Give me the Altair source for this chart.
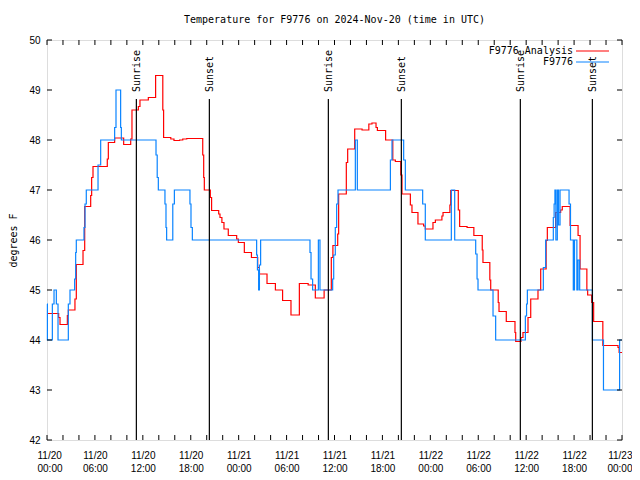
import altair as alt
import pandas as pd

# Hours since 2024-11-20 00:00 UTC, step values (value holds from that time on)
analysis_t = [0, 1.46, 1.63, 2.55, 2.67, 3.5, 3.67, 4.51, 4.72, 5.47, 5.59, 5.76, 7.55, 7.68,
              8.47, 9.6, 10.48, 10.64, 11.44, 11.64, 12.69, 13.6, 14.5, 14.6, 15.5, 15.9, 16.6,
              17.0, 17.5, 19.5, 19.62, 19.7, 20.45, 20.61, 21.5, 21.66, 21.9, 22.16, 22.7, 23.75,
              23.96, 24.71, 25.6, 26.38, 26.6, 27.55, 28.6, 29.5, 30.55, 31.6, 32.7, 33.6, 34.7,
              35.6, 35.8, 36.4, 36.52, 37.48, 37.65, 38.53, 39.45, 40.3, 40.69, 41.2, 41.37, 42.4,
              43.3, 43.62, 44.3, 44.45, 45.5, 45.7, 46.45, 47.16, 47.37, 48.33, 48.63, 49.45,
              49.59, 50.45, 50.55, 51.5, 51.67, 52.6, 53.45, 54.5, 54.59, 55.45, 55.56, 56.5, 56.6,
              57.51, 58.6, 58.69, 59.35, 59.6, 60.23, 60.57, 61.48, 61.82, 62.5, 62.65, 63.69,
              64.32, 64.52, 65.5, 66.5, 66.75, 67.6, 67.7, 68.2, 68.45, 69.6, 71.5, 71.64, 72]
analysis_v = [44.53, 44.45, 44.31, 44.49, 44.6, 44.82, 45.51, 45.79, 46.67, 46.89, 47.25, 47.47,
              47.62, 47.95, 48.04, 47.91, 48.02, 48.6, 48.67, 48.8, 48.85, 49.29, 48.6, 48.05,
              48.02, 47.99, 48.0, 48.02, 48.03, 47.7, 47.25, 47.0, 46.85, 46.59, 46.52, 46.45,
              46.35, 46.22, 46.09, 46.02, 45.95, 45.75, 45.65, 45.45, 45.32, 45.13, 45.0, 44.79,
              44.5, 45.13, 45.1, 44.84, 45.0, 45.65, 45.89, 46.12, 46.92, 47.55, 47.82, 48.22,
              48.2, 48.32, 48.34, 48.25, 48.19, 48.0, 47.6, 47.57, 47.3, 46.92, 46.7, 46.55, 46.32,
              46.28, 46.22, 46.35, 46.4, 46.48, 46.55, 46.7, 46.99, 46.6, 46.27, 46.25, 46.09,
              45.8, 45.55, 45.2, 45.0, 44.75, 44.57, 44.37, 44.15, 43.97, 44.05, 44.15, 44.45,
              44.82, 45.0, 45.42, 45.99, 46.25, 46.55, 46.6, 46.67, 46.29, 46.09, 45.42, 45.0,
              44.9, 44.75, 44.37, 43.89, 43.85, 43.75, 43.75]

station_t = [0, 0.05, 0.67, 0.88, 1.17, 1.38, 2.67, 2.88, 3.46, 3.59, 3.67, 4.63, 4.76, 4.92,
             6.39, 6.72, 8.47, 8.64, 9.22, 9.31, 13.65, 13.8, 13.94, 14.77, 14.9, 14.98, 15.75,
             15.95, 17.9, 18.03, 18.2, 26.25, 26.35, 26.5, 26.6, 26.75, 32.93, 33.06, 33.26,
             33.98, 34.18, 35.77, 35.9, 36.1, 36.27, 36.44, 38.61, 38.86, 43.0, 43.2, 44.66,
             44.87, 47.04, 47.37, 50.63, 51.05, 53.68, 53.85, 53.97, 55.85, 56.18, 59.9, 60.05,
             60.15, 62.15, 62.44, 63.4, 63.5, 63.6, 63.72, 63.9, 64.05, 64.24, 65.37, 65.55,
             65.9, 66.05, 66.35, 66.5, 66.7, 68.3, 69.68, 71.7, 72]
station_v = [44.72, 44.0, 44.72, 45.0, 44.72, 44.0, 44.72, 45.0, 45.22, 45.75, 46.0, 46.25,
             46.72, 47.0, 47.5, 48.0, 48.25, 49.0, 48.25, 48.0, 47.7, 47.25, 47.0, 46.72, 46.25,
             46.0, 46.72, 47.0, 46.72, 46.25, 46.0, 45.7, 45.4, 45.0, 45.5, 46.0, 45.75, 45.22,
             45.0, 46.0, 45.0, 45.22, 45.7, 46.25, 46.72, 47.0, 48.0, 47.0, 47.6, 48.0, 47.6,
             47.0, 46.72, 46.0, 47.0, 46.0, 45.72, 45.22, 45.0, 44.48, 44.0, 44.48, 44.72, 45.0,
             45.45, 46.0, 46.45, 46.72, 47.0, 46.0, 47.0, 46.3, 47.0, 46.72, 46.0, 45.0, 46.0,
             45.0, 45.6, 45.0, 44.0, 43.0, 44.0, 44.0]

sun_t = [11.19, 20.33, 35.23, 44.37, 59.27, 68.29]
sun_label = ["Sunrise", "Sunset", "Sunrise", "Sunset", "Sunrise", "Sunset"]

x_ticks = list(range(0, 73, 2))
x_labels = list(range(0, 73, 6))
y_ticks = list(range(42, 51))

FONT = "DejaVu Sans Mono"
RED = "#ff0000"
BLUE = "#0a84ff"

df_a = pd.DataFrame({"t": analysis_t, "v": analysis_v})
df_s = pd.DataFrame({"t": station_t, "v": station_v})
df_sun = pd.DataFrame({"t": sun_t, "label": sun_label})
df_xt = pd.DataFrame({"t": x_ticks})
df_yt = pd.DataFrame({"v": y_ticks})

xscale = alt.Scale(domain=[0, 72], nice=False, zero=False)
yscale = alt.Scale(domain=[42, 50], nice=False, zero=False)

label_expr = ("[ '11/' + (20 + floor(datum.value / 24)), "
              "((datum.value % 24) < 10 ? '0' : '') + (datum.value % 24) + ':00' ]")

xaxis = alt.Axis(values=x_labels, labelExpr=label_expr, title=None, labelPadding=10,
                 labelLineHeight=13, labelFlush=True, labelFlushOffset=10,
                 labelOverlap=False, grid=False, ticks=False, domain=False)
yaxis = alt.Axis(values=y_ticks, title="degrees F", labelPadding=7, titleX=-34, titleY=200,
                 titleAngle=270, titleAlign="center", titleBaseline="middle", labelFlush=False,
                 titleFontWeight="normal", titleFont=FONT, titleFontSize=10,
                 grid=False, ticks=False, domain=False)

X = alt.X("t:Q", scale=xscale, axis=xaxis)
Y = alt.Y("v:Q", scale=yscale, axis=yaxis)

base_line = alt.Chart(df_a).mark_line(interpolate="step-after", color=RED, strokeWidth=1.2).encode(x=X, y=Y)
st_line = alt.Chart(df_s).mark_line(interpolate="step-after", color=BLUE, strokeWidth=1.2).encode(x=X, y=Y)

sun_rule = alt.Chart(df_sun).mark_rule(color="black", strokeWidth=1.2).encode(
    x=X, y=alt.value(59), y2=alt.value(400))
sun_text = alt.Chart(df_sun).mark_text(angle=270, align="left", baseline="middle", font=FONT,
                                       fontSize=10, color="black", dy=1).encode(
    x=X, y=alt.value(52), text="label:N")

xt_bottom = alt.Chart(df_xt).mark_rule(color="black").encode(
    x=X, y=alt.value(400), y2=alt.value(395))
xt_top = alt.Chart(df_xt).mark_rule(color="black").encode(
    x=X, y=alt.value(0), y2=alt.value(5))
yt_left = alt.Chart(df_yt).mark_rule(color="black").encode(
    y=Y, x=alt.value(0), x2=alt.value(5))
yt_right = alt.Chart(df_yt).mark_rule(color="black").encode(
    y=Y, x=alt.value(575), x2=alt.value(570))

leg_names = ["F9776 Analysis", "F9776"]
leg_a_text = alt.Chart(pd.DataFrame({"name": [leg_names[0]]})).mark_text(
    align="right", baseline="middle", font=FONT, fontSize=10, color="black").encode(
    x=alt.value(526), y=alt.value(11), text="name:N")
leg_a_line = alt.Chart(pd.DataFrame({"name": [leg_names[0]]})).mark_rule(
    color=RED, strokeWidth=1.2).encode(x=alt.value(529), x2=alt.value(562), y=alt.value(11))
leg_s_text = alt.Chart(pd.DataFrame({"name": [leg_names[1]]})).mark_text(
    align="right", baseline="middle", font=FONT, fontSize=10, color="black").encode(
    x=alt.value(526), y=alt.value(22), text="name:N")
leg_s_line = alt.Chart(pd.DataFrame({"name": [leg_names[1]]})).mark_rule(
    color=BLUE, strokeWidth=1.2).encode(x=alt.value(529), x2=alt.value(562), y=alt.value(22))

chart = alt.layer(
    base_line, st_line, xt_bottom, xt_top, yt_left, yt_right, sun_rule, sun_text,
    leg_a_text, leg_a_line, leg_s_text, leg_s_line
).properties(
    width=575, height=400,
    padding={"left": 39, "top": 32, "right": 10, "bottom": 32},
    autosize=alt.AutoSizeParams(type="none"),
    title=alt.Title("Temperature for F9776 on 2024-Nov-20 (time in UTC)", font=FONT,
                    fontSize=10, fontWeight="normal", color="black", anchor="middle",
                    offset=10),
).configure_view(stroke="black", strokeWidth=1).configure_axis(
    grid=False, ticks=False, domain=False, labelFont=FONT, labelFontSize=10,
    labelColor="black", titleFont=FONT, titleFontSize=10, titleFontWeight="normal",
    titleColor="black"
).configure(background="white")

chart.save("out.html", embed_options={"renderer": "svg", "actions": False})
